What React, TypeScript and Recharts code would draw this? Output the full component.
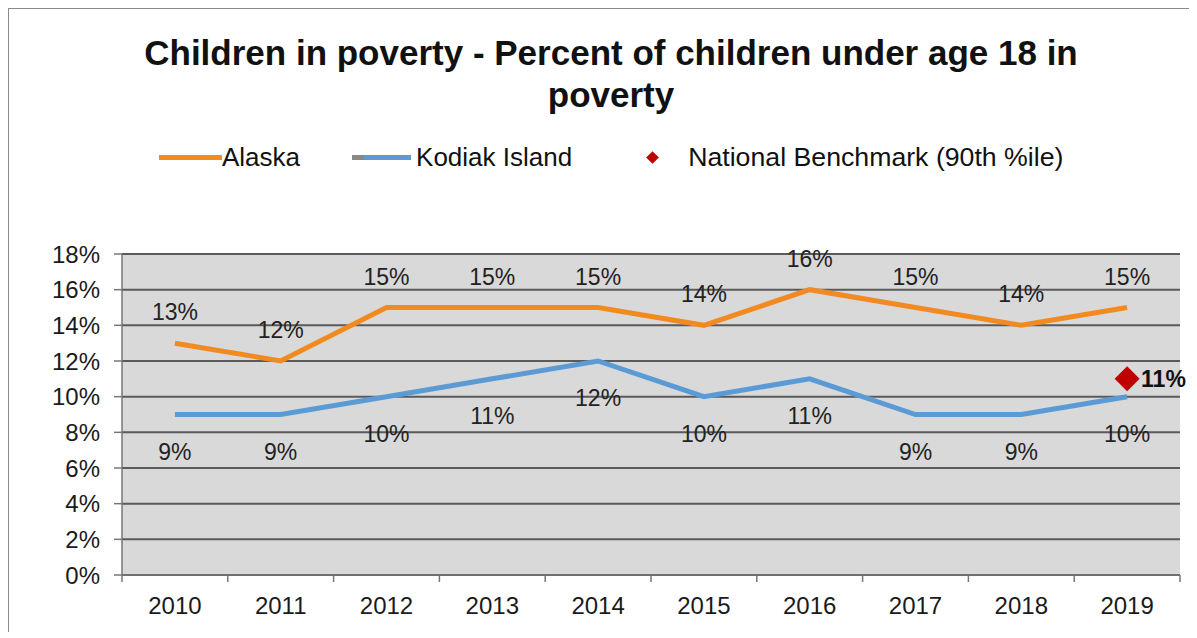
import React from "react";
import { LineChart, Line, XAxis, YAxis, CartesianGrid, LabelList } from "recharts";

const years = ["2010", "2011", "2012", "2013", "2014", "2015", "2016", "2017", "2018", "2019"];
const alaska = [13, 12, 15, 15, 15, 14, 16, 15, 14, 15];
const kodiak = [9, 9, 10, 11, 12, 10, 11, 9, 9, 10];
const benchmark = [null, null, null, null, null, null, null, null, null, 11];
const yTicks = [0, 2, 4, 6, 8, 10, 12, 14, 16, 18];

const data = years.map((year, i) => ({
  year,
  alaska: alaska[i],
  kodiak: kodiak[i],
  benchmark: benchmark[i],
}));

const FONT = "'Liberation Sans', Arial, sans-serif";
const W = 1186;
const H = 626;
const M = { top: 248, right: 10, bottom: 17, left: 58 };
const Y_W = 60;
const BAND = (W - M.left - M.right - Y_W) / years.length;

const pct = (v: any) => (v == null ? "" : `${v}%`);

const XTick = (props: any) => {
  const { x, y, payload, index } = props;
  const left = x - BAND / 2;
  return (
    <g>
      <line x1={left} y1={y - 8} x2={left} y2={y - 1} stroke="#777" strokeWidth={1.5} />
      {index === years.length - 1 && (
        <line x1={x + BAND / 2} y1={y - 8} x2={x + BAND / 2} y2={y - 1} stroke="#777" strokeWidth={1.5} />
      )}
      <text x={x} y={y + 31} textAnchor="middle" fontSize={24} fill="#1a1a1a" fontFamily={FONT}>
        {payload.value}
      </text>
    </g>
  );
};

const Diamond = (props: any) => {
  const { cx, cy, value } = props;
  if (value == null || cx == null) return null;
  const r = 12.5;
  return (
    <path
      d={`M${cx},${cy - r} L${cx + r},${cy} L${cx},${cy + r} L${cx - r},${cy} Z`}
      fill="#c00000"
    />
  );
};

const legendItem = { display: "flex", alignItems: "center" } as const;

export default function App() {
  return (
    <div
      style={{
        position: "relative",
        width: W,
        height: H,
        marginLeft: -4,
        marginTop: -2,
        fontFamily: FONT,
        background: "#fff",
      }}
    >
      <style>{`.recharts-surface{overflow:visible}`}</style>
      {/* frame: only top and left edges show in the reference */}
      <div style={{ position: "absolute", left: 1, top: 1, width: W + 20, height: 2, background: "#8a8a8a", zIndex: 5 }} />
      <div style={{ position: "absolute", left: 3, top: 1, width: 2, height: H + 20, background: "#8a8a8a", zIndex: 5 }} />
      <div
        style={{
          position: "absolute",
          left: 40,
          width: 1134,
          top: 26,
          textAlign: "center",
          fontWeight: "bold",
          fontSize: 35,
          lineHeight: "42px",
          color: "#111",
        }}
      >
        Children in poverty - Percent of children under age 18 in
        <br />
        poverty
      </div>
      <div style={{ position: "absolute", top: 133, left: 155, display: "flex", fontSize: 26, color: "#111", alignItems: "center", height: 36 }}>
        <div style={legendItem}>
          <span style={{ display: "inline-block", width: 63, height: 5, background: "#f28a22" }} />
          <span>Alaska</span>
        </div>
        <div style={{ ...legendItem, marginLeft: 52 }}>
          <span style={{ display: "inline-block", width: 12, height: 5, background: "#888" }} />
          <span style={{ display: "inline-block", width: 47, height: 5, background: "#5b9bd5" }} />
          <span style={{ marginLeft: 5 }}>Kodiak Island</span>
        </div>
        <div style={{ ...legendItem, marginLeft: 76 }}>
          <span style={{ display: "inline-block", width: 9, height: 9, background: "#c00000", transform: "rotate(45deg)" }} />
          <span style={{ marginLeft: 31, fontSize: 26.7 }}>National Benchmark (90th %ile)</span>
        </div>
      </div>
      <LineChart width={W} height={H} data={data} margin={M}>
        <CartesianGrid vertical={false} stroke="#5a5a5a" strokeWidth={2} fill="#d9d9d9" />
        <XAxis
          dataKey="year"
          stroke="#777"
          strokeWidth={1.5}
          tickLine={false}
          tick={<XTick />}
          height={40}
          interval={0}
          padding={{ left: BAND / 2, right: BAND / 2 }}
        />
        <YAxis
          domain={[0, 18]}
          ticks={yTicks}
          tickFormatter={pct}
          width={Y_W}
          stroke="#777"
          strokeWidth={1.5}
          tickSize={8}
          tickMargin={14}
          tick={{ fontSize: 24, fill: "#1a1a1a", fontFamily: FONT }}
        />
        <Line dataKey="alaska" stroke="#f28a22" strokeWidth={5} dot={false} isAnimationActive={false}>
          <LabelList dataKey="alaska" position="top" offset={23} formatter={pct} fontSize={23} fill="#222" fontFamily={FONT} />
        </Line>
        <Line dataKey="kodiak" stroke="#5b9bd5" strokeWidth={5} dot={false} isAnimationActive={false}>
          <LabelList dataKey="kodiak" position="bottom" offset={29} formatter={pct} fontSize={23} fill="#222" fontFamily={FONT} />
        </Line>
        <Line dataKey="benchmark" stroke="none" dot={<Diamond />} activeDot={false} isAnimationActive={false}>
          <LabelList dataKey="benchmark" position="right" offset={14} formatter={pct} fontSize={23} fontWeight="bold" fill="#111" fontFamily={FONT} />
        </Line>
      </LineChart>
    </div>
  );
}
